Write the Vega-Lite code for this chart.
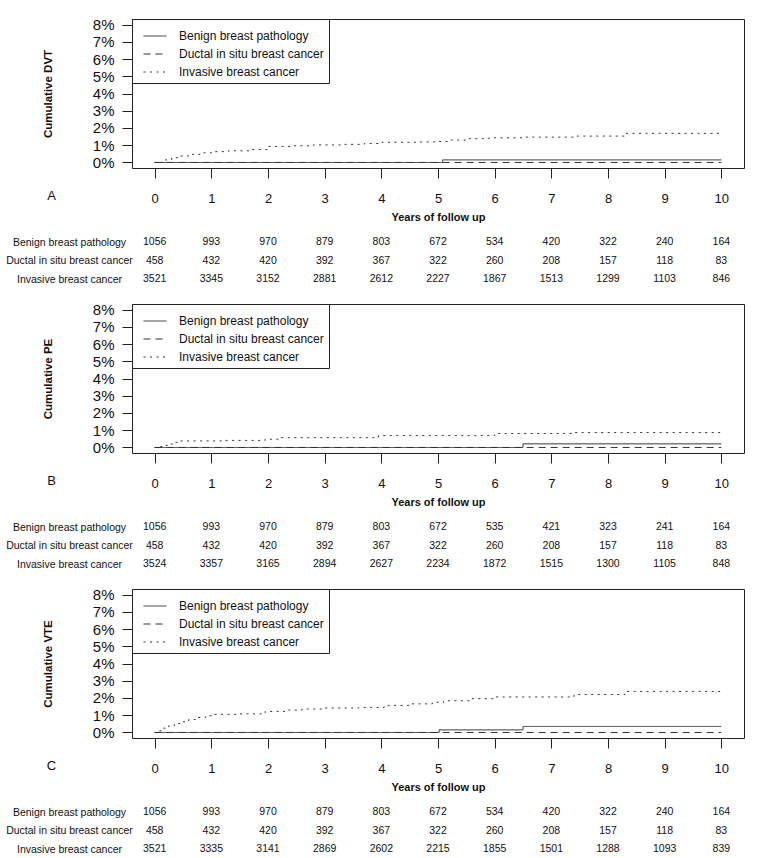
{
  "$schema": "https://vega.github.io/schema/vega-lite/v6.json",
  "padding": {"top": 17, "left": 5, "right": 5, "bottom": 0},
  "background": "white",
  "bounds": "flush",
  "spacing": 20,
  "resolve": {"scale": {"x": "independent", "y": "independent", "strokeDash": "independent"}, "axis": {"x": "independent", "y": "independent"}, "legend": {"strokeDash": "independent"}},
  "config": {
    "font": "Liberation Sans",
    "view": {"stroke": "#222", "strokeWidth": 1},
    "axis": {"grid": false, "domain": false, "tickColor": "#222", "tickWidth": 1, "labelColor": "#111", "titleColor": "#111", "labelFont": "Liberation Sans", "titleFont": "Liberation Sans", "labelFlush": false, "labelOverlap": false},
    "axisX": {"tickSize": 10, "labelFontSize": 13, "labelPadding": 14, "titleFontSize": 11, "titleFontWeight": "bold", "titlePadding": 6},
    "axisY": {"tickSize": 10, "labelFontSize": 15, "labelPadding": 8, "titleFontSize": 11.5, "titleFontWeight": "bold", "titleX": -84, "titleY": 74.5, "titleBaseline": "middle", "titleAlign": "center"},
    "legend": {"orient": "top-left", "offset": 0, "padding": 5, "strokeColor": "#222", "fillColor": "white", "symbolType": "stroke", "symbolSize": 529, "symbolStrokeWidth": 1, "symbolStrokeColor": "#333", "labelFontSize": 12, "labelColor": "#111", "labelOffset": 12, "rowPadding": -8, "symbolOffset": 6, "labelLimit": 300, "cornerRadius": 0}
  },
  "datasets": {
    "dvt": [
      {"group": "Benign breast pathology", "t": 0, "pct": 0},
      {"group": "Benign breast pathology", "t": 5.08, "pct": 0.15},
      {"group": "Benign breast pathology", "t": 10, "pct": 0.15},
      {"group": "Ductal in situ breast cancer", "t": 0, "pct": 0},
      {"group": "Ductal in situ breast cancer", "t": 10, "pct": 0},
      {"group": "Invasive breast cancer", "t": 0, "pct": 0},
      {"group": "Invasive breast cancer", "t": 0.15, "pct": 0.15},
      {"group": "Invasive breast cancer", "t": 0.3, "pct": 0.28},
      {"group": "Invasive breast cancer", "t": 0.45, "pct": 0.38},
      {"group": "Invasive breast cancer", "t": 0.6, "pct": 0.47},
      {"group": "Invasive breast cancer", "t": 0.8, "pct": 0.56},
      {"group": "Invasive breast cancer", "t": 1.0, "pct": 0.63},
      {"group": "Invasive breast cancer", "t": 1.3, "pct": 0.68},
      {"group": "Invasive breast cancer", "t": 1.7, "pct": 0.75},
      {"group": "Invasive breast cancer", "t": 2.0, "pct": 0.93},
      {"group": "Invasive breast cancer", "t": 2.4, "pct": 0.97},
      {"group": "Invasive breast cancer", "t": 2.8, "pct": 1.02},
      {"group": "Invasive breast cancer", "t": 3.3, "pct": 1.05},
      {"group": "Invasive breast cancer", "t": 3.7, "pct": 1.1},
      {"group": "Invasive breast cancer", "t": 3.95, "pct": 1.17},
      {"group": "Invasive breast cancer", "t": 4.6, "pct": 1.19},
      {"group": "Invasive breast cancer", "t": 5.0, "pct": 1.22},
      {"group": "Invasive breast cancer", "t": 5.2, "pct": 1.3},
      {"group": "Invasive breast cancer", "t": 5.5, "pct": 1.38},
      {"group": "Invasive breast cancer", "t": 5.9, "pct": 1.43},
      {"group": "Invasive breast cancer", "t": 6.5, "pct": 1.47},
      {"group": "Invasive breast cancer", "t": 7.4, "pct": 1.53},
      {"group": "Invasive breast cancer", "t": 8.3, "pct": 1.69},
      {"group": "Invasive breast cancer", "t": 10, "pct": 1.69}
    ],
    "pe": [
      {"group": "Benign breast pathology", "t": 0, "pct": 0},
      {"group": "Benign breast pathology", "t": 6.5, "pct": 0.21},
      {"group": "Benign breast pathology", "t": 10, "pct": 0.21},
      {"group": "Ductal in situ breast cancer", "t": 0, "pct": 0},
      {"group": "Ductal in situ breast cancer", "t": 10, "pct": 0},
      {"group": "Invasive breast cancer", "t": 0, "pct": 0},
      {"group": "Invasive breast cancer", "t": 0.05, "pct": 0.05},
      {"group": "Invasive breast cancer", "t": 0.15, "pct": 0.12},
      {"group": "Invasive breast cancer", "t": 0.25, "pct": 0.2},
      {"group": "Invasive breast cancer", "t": 0.35, "pct": 0.3},
      {"group": "Invasive breast cancer", "t": 0.45, "pct": 0.38},
      {"group": "Invasive breast cancer", "t": 1.2, "pct": 0.41},
      {"group": "Invasive breast cancer", "t": 1.95, "pct": 0.48},
      {"group": "Invasive breast cancer", "t": 2.2, "pct": 0.57},
      {"group": "Invasive breast cancer", "t": 3.95, "pct": 0.69},
      {"group": "Invasive breast cancer", "t": 6.0, "pct": 0.81},
      {"group": "Invasive breast cancer", "t": 7.37, "pct": 0.87},
      {"group": "Invasive breast cancer", "t": 10, "pct": 0.87}
    ],
    "vte": [
      {"group": "Benign breast pathology", "t": 0, "pct": 0},
      {"group": "Benign breast pathology", "t": 5.02, "pct": 0.15},
      {"group": "Benign breast pathology", "t": 6.5, "pct": 0.35},
      {"group": "Benign breast pathology", "t": 10, "pct": 0.35},
      {"group": "Ductal in situ breast cancer", "t": 0, "pct": 0},
      {"group": "Ductal in situ breast cancer", "t": 10, "pct": 0},
      {"group": "Invasive breast cancer", "t": 0, "pct": 0},
      {"group": "Invasive breast cancer", "t": 0.05, "pct": 0.1},
      {"group": "Invasive breast cancer", "t": 0.15, "pct": 0.25},
      {"group": "Invasive breast cancer", "t": 0.25, "pct": 0.4},
      {"group": "Invasive breast cancer", "t": 0.35, "pct": 0.52},
      {"group": "Invasive breast cancer", "t": 0.45, "pct": 0.62},
      {"group": "Invasive breast cancer", "t": 0.6, "pct": 0.75},
      {"group": "Invasive breast cancer", "t": 0.75, "pct": 0.87},
      {"group": "Invasive breast cancer", "t": 0.9, "pct": 0.97},
      {"group": "Invasive breast cancer", "t": 1.05, "pct": 1.05},
      {"group": "Invasive breast cancer", "t": 1.5, "pct": 1.08},
      {"group": "Invasive breast cancer", "t": 1.95, "pct": 1.22},
      {"group": "Invasive breast cancer", "t": 2.3, "pct": 1.3},
      {"group": "Invasive breast cancer", "t": 2.6, "pct": 1.36},
      {"group": "Invasive breast cancer", "t": 3.0, "pct": 1.42},
      {"group": "Invasive breast cancer", "t": 3.6, "pct": 1.45},
      {"group": "Invasive breast cancer", "t": 4.05, "pct": 1.57},
      {"group": "Invasive breast cancer", "t": 4.5, "pct": 1.66},
      {"group": "Invasive breast cancer", "t": 4.9, "pct": 1.75},
      {"group": "Invasive breast cancer", "t": 5.1, "pct": 1.84},
      {"group": "Invasive breast cancer", "t": 5.6, "pct": 1.96},
      {"group": "Invasive breast cancer", "t": 6.0, "pct": 2.06},
      {"group": "Invasive breast cancer", "t": 7.4, "pct": 2.2},
      {"group": "Invasive breast cancer", "t": 8.3, "pct": 2.38},
      {"group": "Invasive breast cancer", "t": 10, "pct": 2.38}
    ],
    "riskA": [
      {"group": "Benign breast pathology", "t": 0, "n": 1056}, {"group": "Benign breast pathology", "t": 1, "n": 993}, {"group": "Benign breast pathology", "t": 2, "n": 970}, {"group": "Benign breast pathology", "t": 3, "n": 879}, {"group": "Benign breast pathology", "t": 4, "n": 803}, {"group": "Benign breast pathology", "t": 5, "n": 672}, {"group": "Benign breast pathology", "t": 6, "n": 534}, {"group": "Benign breast pathology", "t": 7, "n": 420}, {"group": "Benign breast pathology", "t": 8, "n": 322}, {"group": "Benign breast pathology", "t": 9, "n": 240}, {"group": "Benign breast pathology", "t": 10, "n": 164},
      {"group": "Ductal in situ breast cancer", "t": 0, "n": 458}, {"group": "Ductal in situ breast cancer", "t": 1, "n": 432}, {"group": "Ductal in situ breast cancer", "t": 2, "n": 420}, {"group": "Ductal in situ breast cancer", "t": 3, "n": 392}, {"group": "Ductal in situ breast cancer", "t": 4, "n": 367}, {"group": "Ductal in situ breast cancer", "t": 5, "n": 322}, {"group": "Ductal in situ breast cancer", "t": 6, "n": 260}, {"group": "Ductal in situ breast cancer", "t": 7, "n": 208}, {"group": "Ductal in situ breast cancer", "t": 8, "n": 157}, {"group": "Ductal in situ breast cancer", "t": 9, "n": 118}, {"group": "Ductal in situ breast cancer", "t": 10, "n": 83},
      {"group": "Invasive breast cancer", "t": 0, "n": 3521}, {"group": "Invasive breast cancer", "t": 1, "n": 3345}, {"group": "Invasive breast cancer", "t": 2, "n": 3152}, {"group": "Invasive breast cancer", "t": 3, "n": 2881}, {"group": "Invasive breast cancer", "t": 4, "n": 2612}, {"group": "Invasive breast cancer", "t": 5, "n": 2227}, {"group": "Invasive breast cancer", "t": 6, "n": 1867}, {"group": "Invasive breast cancer", "t": 7, "n": 1513}, {"group": "Invasive breast cancer", "t": 8, "n": 1299}, {"group": "Invasive breast cancer", "t": 9, "n": 1103}, {"group": "Invasive breast cancer", "t": 10, "n": 846}
    ],
    "riskB": [
      {"group": "Benign breast pathology", "t": 0, "n": 1056}, {"group": "Benign breast pathology", "t": 1, "n": 993}, {"group": "Benign breast pathology", "t": 2, "n": 970}, {"group": "Benign breast pathology", "t": 3, "n": 879}, {"group": "Benign breast pathology", "t": 4, "n": 803}, {"group": "Benign breast pathology", "t": 5, "n": 672}, {"group": "Benign breast pathology", "t": 6, "n": 535}, {"group": "Benign breast pathology", "t": 7, "n": 421}, {"group": "Benign breast pathology", "t": 8, "n": 323}, {"group": "Benign breast pathology", "t": 9, "n": 241}, {"group": "Benign breast pathology", "t": 10, "n": 164},
      {"group": "Ductal in situ breast cancer", "t": 0, "n": 458}, {"group": "Ductal in situ breast cancer", "t": 1, "n": 432}, {"group": "Ductal in situ breast cancer", "t": 2, "n": 420}, {"group": "Ductal in situ breast cancer", "t": 3, "n": 392}, {"group": "Ductal in situ breast cancer", "t": 4, "n": 367}, {"group": "Ductal in situ breast cancer", "t": 5, "n": 322}, {"group": "Ductal in situ breast cancer", "t": 6, "n": 260}, {"group": "Ductal in situ breast cancer", "t": 7, "n": 208}, {"group": "Ductal in situ breast cancer", "t": 8, "n": 157}, {"group": "Ductal in situ breast cancer", "t": 9, "n": 118}, {"group": "Ductal in situ breast cancer", "t": 10, "n": 83},
      {"group": "Invasive breast cancer", "t": 0, "n": 3524}, {"group": "Invasive breast cancer", "t": 1, "n": 3357}, {"group": "Invasive breast cancer", "t": 2, "n": 3165}, {"group": "Invasive breast cancer", "t": 3, "n": 2894}, {"group": "Invasive breast cancer", "t": 4, "n": 2627}, {"group": "Invasive breast cancer", "t": 5, "n": 2234}, {"group": "Invasive breast cancer", "t": 6, "n": 1872}, {"group": "Invasive breast cancer", "t": 7, "n": 1515}, {"group": "Invasive breast cancer", "t": 8, "n": 1300}, {"group": "Invasive breast cancer", "t": 9, "n": 1105}, {"group": "Invasive breast cancer", "t": 10, "n": 848}
    ],
    "riskC": [
      {"group": "Benign breast pathology", "t": 0, "n": 1056}, {"group": "Benign breast pathology", "t": 1, "n": 993}, {"group": "Benign breast pathology", "t": 2, "n": 970}, {"group": "Benign breast pathology", "t": 3, "n": 879}, {"group": "Benign breast pathology", "t": 4, "n": 803}, {"group": "Benign breast pathology", "t": 5, "n": 672}, {"group": "Benign breast pathology", "t": 6, "n": 534}, {"group": "Benign breast pathology", "t": 7, "n": 420}, {"group": "Benign breast pathology", "t": 8, "n": 322}, {"group": "Benign breast pathology", "t": 9, "n": 240}, {"group": "Benign breast pathology", "t": 10, "n": 164},
      {"group": "Ductal in situ breast cancer", "t": 0, "n": 458}, {"group": "Ductal in situ breast cancer", "t": 1, "n": 432}, {"group": "Ductal in situ breast cancer", "t": 2, "n": 420}, {"group": "Ductal in situ breast cancer", "t": 3, "n": 392}, {"group": "Ductal in situ breast cancer", "t": 4, "n": 367}, {"group": "Ductal in situ breast cancer", "t": 5, "n": 322}, {"group": "Ductal in situ breast cancer", "t": 6, "n": 260}, {"group": "Ductal in situ breast cancer", "t": 7, "n": 208}, {"group": "Ductal in situ breast cancer", "t": 8, "n": 157}, {"group": "Ductal in situ breast cancer", "t": 9, "n": 118}, {"group": "Ductal in situ breast cancer", "t": 10, "n": 83},
      {"group": "Invasive breast cancer", "t": 0, "n": 3521}, {"group": "Invasive breast cancer", "t": 1, "n": 3335}, {"group": "Invasive breast cancer", "t": 2, "n": 3141}, {"group": "Invasive breast cancer", "t": 3, "n": 2869}, {"group": "Invasive breast cancer", "t": 4, "n": 2602}, {"group": "Invasive breast cancer", "t": 5, "n": 2215}, {"group": "Invasive breast cancer", "t": 6, "n": 1855}, {"group": "Invasive breast cancer", "t": 7, "n": 1501}, {"group": "Invasive breast cancer", "t": 8, "n": 1288}, {"group": "Invasive breast cancer", "t": 9, "n": 1093}, {"group": "Invasive breast cancer", "t": 10, "n": 839}
    ]
  },
  "vconcat": [
    {
      "width": 612, "height": 149,
      "data": {"name": "dvt"},
      "mark": {"type": "line", "interpolate": "step-after", "strokeWidth": 1, "color": "#333"},
      "encoding": {
        "x": {"field": "t", "type": "quantitative", "scale": {"domain": [-0.4, 10.4], "nice": false, "zero": false}, "axis": {"values": [0, 1, 2, 3, 4, 5, 6, 7, 8, 9, 10], "format": "d", "title": "Years of follow up"}},
        "y": {"field": "pct", "type": "quantitative", "scale": {"domain": [-0.32, 8.32], "nice": false, "zero": false}, "axis": {"values": [0, 1, 2, 3, 4, 5, 6, 7, 8], "labelExpr": "datum.value + '%'", "title": "Cumulative DVT"}},
        "strokeDash": {"field": "group", "type": "nominal", "scale": {"domain": ["Benign breast pathology", "Ductal in situ breast cancer", "Invasive breast cancer"], "range": [[1, 0], [7, 5], [2, 4.5]]}, "legend": {"title": null}}
      }
    },
    {
      "width": 612, "height": 96,
      "view": {"stroke": null},
      "data": {"name": "riskA"},
      "mark": {"type": "text", "fontSize": 10.5, "color": "#111"},
      "encoding": {
        "x": {"field": "t", "type": "quantitative", "scale": {"domain": [-0.4, 10.4], "nice": false, "zero": false}, "axis": null},
        "y": {"field": "group", "type": "nominal", "scale": {"type": "point", "domain": ["Benign breast pathology", "Ductal in situ breast cancer", "Invasive breast cancer"], "range": [54, 91], "padding": 0}, "axis": {"title": "A", "titleAngle": 0, "titleX": -81, "titleY": 7, "titleBaseline": "middle", "titleAlign": "center", "titleFontSize": 13, "titleFontWeight": "normal", "labelFontSize": 10.5, "labelPadding": 63, "labelAlign": "center", "ticks": false, "tickSize": 0, "domain": false}},
        "text": {"field": "n", "type": "quantitative", "format": "d"}
      }
    },
    {
      "width": 612, "height": 149,
      "data": {"name": "pe"},
      "mark": {"type": "line", "interpolate": "step-after", "strokeWidth": 1, "color": "#333"},
      "encoding": {
        "x": {"field": "t", "type": "quantitative", "scale": {"domain": [-0.4, 10.4], "nice": false, "zero": false}, "axis": {"values": [0, 1, 2, 3, 4, 5, 6, 7, 8, 9, 10], "format": "d", "title": "Years of follow up"}},
        "y": {"field": "pct", "type": "quantitative", "scale": {"domain": [-0.32, 8.32], "nice": false, "zero": false}, "axis": {"values": [0, 1, 2, 3, 4, 5, 6, 7, 8], "labelExpr": "datum.value + '%'", "title": "Cumulative PE"}},
        "strokeDash": {"field": "group", "type": "nominal", "scale": {"domain": ["Benign breast pathology", "Ductal in situ breast cancer", "Invasive breast cancer"], "range": [[1, 0], [7, 5], [2, 4.5]]}, "legend": {"title": null}}
      }
    },
    {
      "width": 612, "height": 96,
      "view": {"stroke": null},
      "data": {"name": "riskB"},
      "mark": {"type": "text", "fontSize": 10.5, "color": "#111"},
      "encoding": {
        "x": {"field": "t", "type": "quantitative", "scale": {"domain": [-0.4, 10.4], "nice": false, "zero": false}, "axis": null},
        "y": {"field": "group", "type": "nominal", "scale": {"type": "point", "domain": ["Benign breast pathology", "Ductal in situ breast cancer", "Invasive breast cancer"], "range": [54, 91], "padding": 0}, "axis": {"title": "B", "titleAngle": 0, "titleX": -81, "titleY": 7, "titleBaseline": "middle", "titleAlign": "center", "titleFontSize": 13, "titleFontWeight": "normal", "labelFontSize": 10.5, "labelPadding": 63, "labelAlign": "center", "ticks": false, "tickSize": 0, "domain": false}},
        "text": {"field": "n", "type": "quantitative", "format": "d"}
      }
    },
    {
      "width": 612, "height": 149,
      "data": {"name": "vte"},
      "mark": {"type": "line", "interpolate": "step-after", "strokeWidth": 1, "color": "#333"},
      "encoding": {
        "x": {"field": "t", "type": "quantitative", "scale": {"domain": [-0.4, 10.4], "nice": false, "zero": false}, "axis": {"values": [0, 1, 2, 3, 4, 5, 6, 7, 8, 9, 10], "format": "d", "title": "Years of follow up"}},
        "y": {"field": "pct", "type": "quantitative", "scale": {"domain": [-0.32, 8.32], "nice": false, "zero": false}, "axis": {"values": [0, 1, 2, 3, 4, 5, 6, 7, 8], "labelExpr": "datum.value + '%'", "title": "Cumulative VTE"}},
        "strokeDash": {"field": "group", "type": "nominal", "scale": {"domain": ["Benign breast pathology", "Ductal in situ breast cancer", "Invasive breast cancer"], "range": [[1, 0], [7, 5], [2, 4.5]]}, "legend": {"title": null}}
      }
    },
    {
      "width": 612, "height": 96,
      "view": {"stroke": null},
      "data": {"name": "riskC"},
      "mark": {"type": "text", "fontSize": 10.5, "color": "#111"},
      "encoding": {
        "x": {"field": "t", "type": "quantitative", "scale": {"domain": [-0.4, 10.4], "nice": false, "zero": false}, "axis": null},
        "y": {"field": "group", "type": "nominal", "scale": {"type": "point", "domain": ["Benign breast pathology", "Ductal in situ breast cancer", "Invasive breast cancer"], "range": [54, 91], "padding": 0}, "axis": {"title": "C", "titleAngle": 0, "titleX": -81, "titleY": 7, "titleBaseline": "middle", "titleAlign": "center", "titleFontSize": 13, "titleFontWeight": "normal", "labelFontSize": 10.5, "labelPadding": 63, "labelAlign": "center", "ticks": false, "tickSize": 0, "domain": false}},
        "text": {"field": "n", "type": "quantitative", "format": "d"}
      }
    }
  ]
}
